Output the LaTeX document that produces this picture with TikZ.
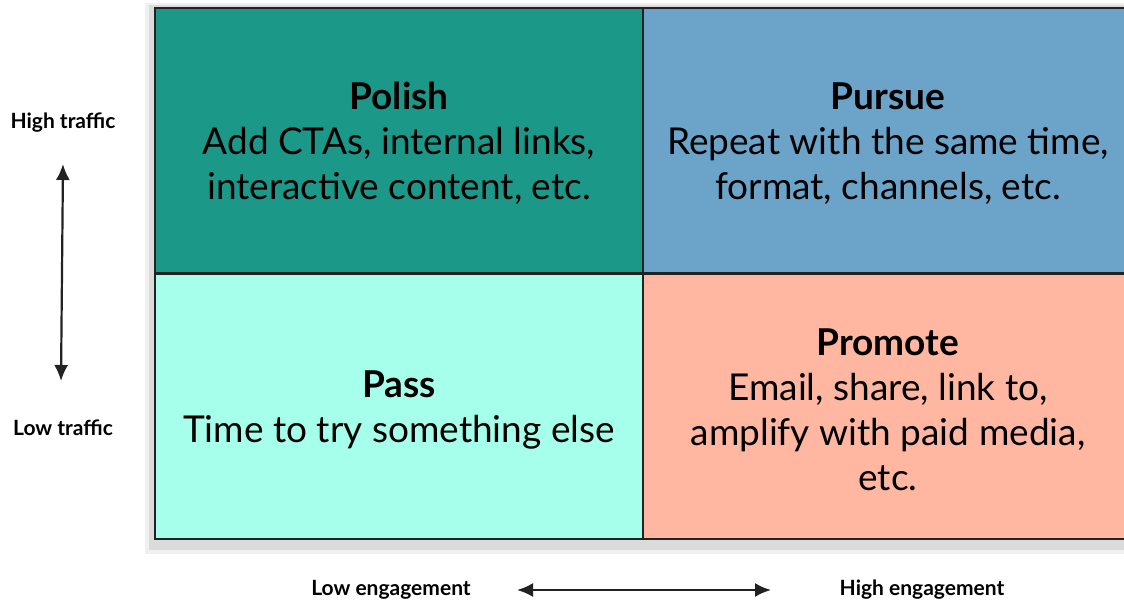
\documentclass[tikz,border=0pt]{standalone}
\usepackage{fontspec}
\setmainfont{Lato}
\usetikzlibrary{%
  arrows.meta,%
  calc,%
  positioning%
}
\definecolor{polishc}{RGB}{27,152,136}
\definecolor{pursuec}{RGB}{107,164,200}
\definecolor{passc}{RGB}{166,255,234}
\definecolor{promotec}{RGB}{255,183,161}
\definecolor{edgec}{RGB}{34,34,34}
\tikzset{>={Latex[length=16pt,width=14pt]},
  cell/.style={draw=edgec,line width=2.5pt,minimum width=488pt,
    minimum height=265pt,inner sep=0pt},
  celltext/.style={align=center,inner sep=0pt,yshift=-3pt,
    font=\fontsize{37}{45}\selectfont},
  axislabel/.style={font=\bfseries\fontsize{21}{24}\selectfont,inner sep=0pt},
  axisarrow/.style={<->,line width=2.2pt,edgec}
}

\begin{document}
\begin{tikzpicture}[x=1pt,y=-1pt]
    \useasboundingbox (0,0) rectangle (1124,602);
    \fill[gray!12] (145,3) rectangle (1140,554);
    \fill[gray!28] (149,5) rectangle (1140,550);
    \node[cell,fill=polishc] (polish) at (399,140.5) {};
    \node[cell,fill=pursuec,minimum width=490pt] (pursue) at (888,140.5) {};
    \node[cell,fill=passc] (pass) at (399,406.5) {};
    \node[cell,fill=promotec,minimum width=490pt] (promote) at (888,406.5) {};
    \node[celltext] (polish text) at (polish.center)
    {\textbf{Polish}\\Add CTAs, internal links,\\interactive content, etc.};
    \node[celltext] (pursue text) at (pursue.center)
    {\textbf{Pursue}\\Repeat with the same time,\\format, channels, etc.};
    \node[celltext] (pass text) at (pass.center)
    {\textbf{Pass}\\Time to try something else};
    \node[celltext] (promote text) at (promote.center)
    {\textbf{Promote}\\Email, share, link to,\\amplify with paid media,\\etc.};
    \node[axislabel] (high traffic) at (63,123) {High traffic};
    \node[axislabel] (low traffic) at (63,428) {Low traffic};
    \node[axislabel] (low eng) at (391,590) {Low engagement};
    \node[axislabel] (high eng) at (922,590) {High engagement};
    \coordinate (vtop) at (63,164);
    \coordinate (vbot) at (61,381);
    \coordinate (hleft) at (517,590);
    \coordinate (hright) at (771,590);
    \draw[axisarrow] (vtop) -- (vbot);
    \draw[axisarrow] (hleft) -- (hright);
  \end{tikzpicture}
\end{document}
